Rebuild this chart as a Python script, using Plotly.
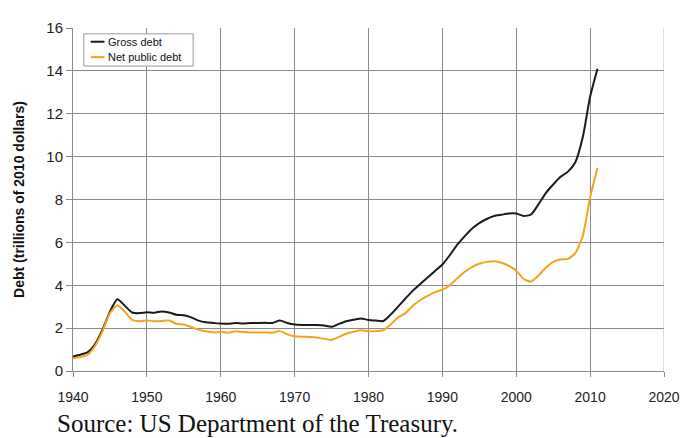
import plotly.graph_objects as go

years = list(range(1940, 2012))

gross_debt = [
    0.68, 0.76, 0.88, 1.26, 1.94, 2.77, 3.35, 3.05, 2.73, 2.70,
    2.74, 2.72, 2.78, 2.73, 2.62, 2.60, 2.50, 2.35, 2.27, 2.24,
    2.21, 2.20, 2.24, 2.22, 2.24, 2.24, 2.25, 2.24, 2.35, 2.24,
    2.17, 2.15, 2.14, 2.14, 2.12, 2.06, 2.20, 2.32, 2.39, 2.45,
    2.38, 2.35, 2.33, 2.63, 3.00, 3.38, 3.75, 4.06, 4.36, 4.67,
    4.97, 5.40, 5.88, 6.28, 6.64, 6.90, 7.09, 7.23, 7.29, 7.35,
    7.35, 7.23, 7.30, 7.77, 8.30, 8.70, 9.06, 9.30, 9.74, 10.90,
    12.80, 14.10,
]

net_public_debt = [
    0.60, 0.65, 0.76, 1.18, 1.86, 2.70, 3.05, 2.77, 2.39, 2.32,
    2.36, 2.32, 2.33, 2.36, 2.20, 2.17, 2.05, 1.92, 1.85, 1.80,
    1.82, 1.79, 1.85, 1.82, 1.80, 1.80, 1.80, 1.79, 1.86, 1.71,
    1.62, 1.60, 1.59, 1.56, 1.50, 1.45, 1.59, 1.74, 1.83, 1.90,
    1.86, 1.86, 1.90, 2.17, 2.50, 2.70, 3.05, 3.30, 3.50, 3.68,
    3.79, 4.00, 4.32, 4.62, 4.85, 5.00, 5.09, 5.12, 5.05, 4.90,
    4.68, 4.29, 4.17, 4.45, 4.82, 5.09, 5.20, 5.23, 5.50, 6.30,
    8.10, 9.47,
]

series_names = ['Gross debt', 'Net public debt']
series_colors = ['#1a1a1a', '#f7a21b']

x_ticks = list(range(1940, 2021, 10))
y_ticks = list(range(0, 17, 2))

fig = go.Figure()

for name, vals, col in zip(series_names, [gross_debt, net_public_debt], series_colors):
    fig.add_trace(go.Scatter(
        x=years, y=vals, mode='lines', name=name, showlegend=False,
        line=dict(color=col, width=2, shape='spline', smoothing=0.6),
    ))

grid = '#8a8a8a'

# the page body has an 8px margin, so the figure is sized/margined to compensate
fig.update_layout(
    width=683, height=430,
    margin=dict(l=64, r=19, t=11, b=67),
    paper_bgcolor='white', plot_bgcolor='white',
    font=dict(family='Liberation Sans, Arial, sans-serif', color='#222'),
    xaxis=dict(
        range=[1940, 2020], tickvals=x_ticks,
        showgrid=True, gridcolor=grid, gridwidth=1,
        showline=True, linecolor=grid,
        ticks='outside', ticklen=5, tickcolor=grid,
        tickfont=dict(size=14), ticklabelstandoff=8, zeroline=False,
    ),
    yaxis=dict(
        range=[0, 16], tickvals=y_ticks,
        showgrid=True, gridcolor=grid, gridwidth=1,
        showline=True, linecolor=grid,
        ticks='outside', ticklen=6, tickcolor=grid,
        tickfont=dict(size=15), zeroline=False,
        title=dict(text='<b>Debt (trillions of 2010 dollars)</b>',
                   font=dict(size=14, color='#111'), standoff=18),
    ),
)

# right border of plot area
fig.add_shape(type='line', xref='x', yref='paper', x0=2020, x1=2020, y0=0, y1=1,
              line=dict(color='#bbbbbb', width=1))

# legend box drawn by hand (compact like the original)
fig.add_shape(type='rect', xref='paper', yref='paper',
              x0=0.0183, x1=0.2033, y0=0.889, y1=0.983,
              fillcolor='white', line=dict(color='#999999', width=1))
legend_y = [0.960, 0.915]
for name, col, ly in zip(series_names, series_colors, legend_y):
    fig.add_shape(type='line', xref='paper', yref='paper',
                  x0=0.030, x1=0.0533, y0=ly, y1=ly,
                  line=dict(color=col, width=2))
    fig.add_annotation(text=name, xref='paper', yref='paper', x=0.055, y=ly,
                       xanchor='left', yanchor='middle', showarrow=False,
                       font=dict(size=11, color='#111'))

fig.add_annotation(
    text='Source: US Department of the Treasury.',
    xref='paper', yref='paper', x=-0.031, y=-0.153,
    xanchor='left', yanchor='middle', showarrow=False,
    font=dict(family='Liberation Serif, Times New Roman, serif', size=25, color='#111'),
)

fig.write_html("out.html")
